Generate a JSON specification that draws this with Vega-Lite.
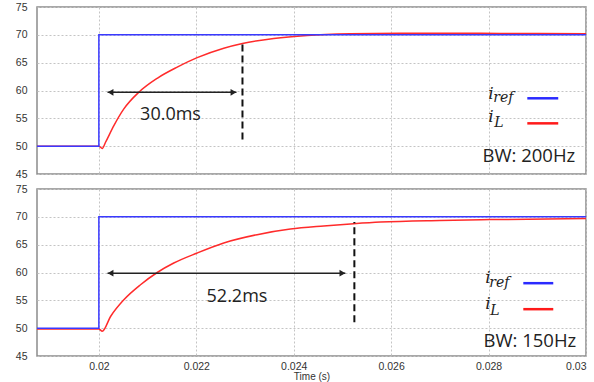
{
  "$schema": "https://vega.github.io/schema/vega-lite/v6.json",
  "padding": {"left": 14, "top": 1, "right": 6, "bottom": 0},
  "spacing": 2,
  "config": {
    "view": {"stroke": "#8c8c8c", "strokeWidth": 1.5},
    "axis": {"domain": false, "ticks": false, "gridColor": "#c4c4c4", "gridDash": [2, 2], "gridWidth": 1, "labelFont": "Liberation Sans", "labelFontSize": 10.5, "labelColor": "#333333", "titleFont": "Liberation Sans", "titleFontSize": 10, "titleFontWeight": "normal", "titleColor": "#333333"},
    "axisY": {"labelPadding": 10, "minExtent": 22, "maxExtent": 22},
    "axisX": {"labelPadding": 5, "titlePadding": 0, "labelFlush": true}
  },
  "vconcat": [
    {
      "width": 549, "height": 167,
      "encoding": {
        "x": {"field": "t", "type": "quantitative", "scale": {"domain": [0.01873, 0.03], "nice": false, "zero": false}, "axis": {"values": [0.02, 0.022, 0.024, 0.026, 0.028, 0.03], "labels": false, "title": null, "labelPadding": 0, "minExtent": 0, "maxExtent": 0}},
        "y": {"field": "v", "type": "quantitative", "scale": {"domain": [45, 75], "nice": false, "zero": false}, "axis": {"values": [45, 50, 55, 60, 65, 70, 75], "title": null}}
      },
      "layer": [
        {
          "data": {"values": [
            {"k": 0, "t": 0.01873, "v": 50}, {"k": 1, "t": 0.02, "v": 50}, {"k": 2, "t": 0.02007, "v": 49.6}, {"k": 3, "t": 0.020137, "v": 50.7}, {"k": 4, "t": 0.020308, "v": 53.7}, {"k": 5, "t": 0.020513, "v": 56.7}, {"k": 6, "t": 0.020821, "v": 59.7}, {"k": 7, "t": 0.021198, "v": 62.2}, {"k": 8, "t": 0.021608, "v": 64.2}, {"k": 9, "t": 0.022018, "v": 65.9}, {"k": 10, "t": 0.022564, "v": 67.6}, {"k": 11, "t": 0.022948, "v": 68.45}, {"k": 12, "t": 0.02359, "v": 69.35}, {"k": 13, "t": 0.024275, "v": 69.9}, {"k": 14, "t": 0.025163, "v": 70.2}, {"k": 15, "t": 0.026189, "v": 70.3}, {"k": 16, "t": 0.027215, "v": 70.3}, {"k": 17, "t": 0.028241, "v": 70.25}, {"k": 18, "t": 0.03, "v": 70.2}
          ]},
          "mark": {"type": "line", "color": "#ff2b2b", "strokeWidth": 1.5, "interpolate": "monotone"},
          "encoding": {"order": {"field": "k", "type": "quantitative"}}
        },
        {
          "data": {"values": [
            {"k": 0, "t": 0.01873, "v": 50}, {"k": 1, "t": 0.02, "v": 50}, {"k": 2, "t": 0.02, "v": 70}, {"k": 3, "t": 0.03, "v": 70}
          ]},
          "mark": {"type": "line", "color": "#3a3aff", "strokeWidth": 1.5},
          "encoding": {"order": {"field": "k", "type": "quantitative"}}
        },
        {
          "data": {"values": [{"t": 0.022948, "v": 51.22, "v2": 68.87}]},
          "mark": {"type": "rule", "color": "#111111", "strokeWidth": 2, "strokeDash": [7, 4]},
          "encoding": {"y2": {"field": "v2"}}
        },
        {
          "data": {"values": [{"t": 0.020178, "t2": 0.022825, "v": 59.68}]},
          "mark": {"type": "rule", "color": "#222222", "strokeWidth": 1.5},
          "encoding": {"x2": {"field": "t2"}}
        },
        {
          "data": {"values": [{"t": 0.02024, "v": 59.68, "dir": "l"}, {"t": 0.022763, "v": 59.68, "dir": "r"}]},
          "mark": {"type": "point", "filled": true, "color": "#222222", "size": 45, "opacity": 1},
          "encoding": {"shape": {"field": "dir", "type": "nominal", "scale": {"domain": ["l", "r"], "range": ["triangle-left", "triangle-right"]}, "legend": null}}
        },
        {
          "data": {"values": [{"t": 0.021471, "v": 55.54, "label": "30.0ms"}]},
          "mark": {"type": "text", "font": "Open Sans", "fontSize": 18, "color": "#222222", "align": "center", "baseline": "middle"},
          "encoding": {"text": {"field": "label"}}
        },
        {
          "data": {"values": [{"t": 0.028795, "t2": 0.02943, "v": 58.6, "s": "ref"}, {"t": 0.028795, "t2": 0.02943, "v": 54.1, "s": "L"}]},
          "mark": {"type": "rule", "strokeWidth": 2.5},
          "encoding": {"x2": {"field": "t2"}, "color": {"field": "s", "type": "nominal", "scale": {"domain": ["ref", "L"], "range": ["#2a2aff", "#ff1a1a"]}, "legend": null}}
        },
        {
          "data": {"values": [{"t": 0.027994, "v": 58.42, "label": "i"}, {"t": 0.027994, "v": 54.28, "label": "i"}]},
          "mark": {"type": "text", "font": "DejaVu Serif", "fontStyle": "italic", "fontSize": 17, "color": "#222222", "align": "left", "baseline": "alphabetic"},
          "encoding": {"text": {"field": "label"}}
        },
        {
          "data": {"values": [{"t": 0.028096, "v": 57.9, "label": "ref"}, {"t": 0.028117, "v": 53.38, "label": "L"}]},
          "mark": {"type": "text", "font": "DejaVu Serif", "fontStyle": "italic", "fontSize": 14, "color": "#222222", "align": "left", "baseline": "alphabetic"},
          "encoding": {"text": {"field": "label"}}
        },
        {
          "data": {"values": [{"t": 0.029779, "v": 47.07, "label": "BW: 200Hz"}]},
          "mark": {"type": "text", "font": "Open Sans", "fontSize": 18.5, "color": "#222222", "align": "right", "baseline": "alphabetic"},
          "encoding": {"text": {"field": "label"}}
        }
      ]
    },
    {
      "width": 549, "height": 167,
      "encoding": {
        "x": {"field": "t", "type": "quantitative", "scale": {"domain": [0.01873, 0.03], "nice": false, "zero": false}, "axis": {"values": [0.02, 0.022, 0.024, 0.026, 0.028, 0.03], "format": "~g", "title": "Time (s)"}},
        "y": {"field": "v", "type": "quantitative", "scale": {"domain": [45, 75], "nice": false, "zero": false}, "axis": {"values": [45, 50, 55, 60, 65, 70, 75], "title": null}}
      },
      "layer": [
        {
          "data": {"values": [
            {"k": 0, "t": 0.01873, "v": 49.85}, {"k": 1, "t": 0.02, "v": 49.85}, {"k": 2, "t": 0.02007, "v": 49.45}, {"k": 3, "t": 0.02024, "v": 52.1}, {"k": 4, "t": 0.020513, "v": 55.1}, {"k": 5, "t": 0.020855, "v": 57.8}, {"k": 6, "t": 0.021198, "v": 60.0}, {"k": 7, "t": 0.021538, "v": 61.7}, {"k": 8, "t": 0.022018, "v": 63.5}, {"k": 9, "t": 0.022564, "v": 65.3}, {"k": 10, "t": 0.023249, "v": 66.8}, {"k": 11, "t": 0.023932, "v": 67.8}, {"k": 12, "t": 0.024615, "v": 68.35}, {"k": 13, "t": 0.025231, "v": 68.75}, {"k": 14, "t": 0.025778, "v": 69.05}, {"k": 15, "t": 0.027, "v": 69.35}, {"k": 16, "t": 0.028035, "v": 69.5}, {"k": 17, "t": 0.03, "v": 69.7}
          ]},
          "mark": {"type": "line", "color": "#ff2b2b", "strokeWidth": 1.5, "interpolate": "monotone"},
          "encoding": {"order": {"field": "k", "type": "quantitative"}}
        },
        {
          "data": {"values": [
            {"k": 0, "t": 0.01873, "v": 50}, {"k": 1, "t": 0.02, "v": 50}, {"k": 2, "t": 0.02, "v": 70}, {"k": 3, "t": 0.03, "v": 70}
          ]},
          "mark": {"type": "line", "color": "#3a3aff", "strokeWidth": 1.5},
          "encoding": {"order": {"field": "k", "type": "quantitative"}}
        },
        {
          "data": {"values": [{"t": 0.025245, "v": 51.07, "v2": 69.06}]},
          "mark": {"type": "rule", "color": "#111111", "strokeWidth": 2, "strokeDash": [7, 4]},
          "encoding": {"y2": {"field": "v2"}}
        },
        {
          "data": {"values": [{"t": 0.020178, "t2": 0.02506, "v": 59.88}]},
          "mark": {"type": "rule", "color": "#222222", "strokeWidth": 1.5},
          "encoding": {"x2": {"field": "t2"}}
        },
        {
          "data": {"values": [{"t": 0.02024, "v": 59.88, "dir": "l"}, {"t": 0.024999, "v": 59.88, "dir": "r"}]},
          "mark": {"type": "point", "filled": true, "color": "#222222", "size": 45, "opacity": 1},
          "encoding": {"shape": {"field": "dir", "type": "nominal", "scale": {"domain": ["l", "r"], "range": ["triangle-left", "triangle-right"]}, "legend": null}}
        },
        {
          "data": {"values": [{"t": 0.022835, "v": 55.56, "label": "52.2ms"}]},
          "mark": {"type": "text", "font": "Open Sans", "fontSize": 18, "color": "#222222", "align": "center", "baseline": "middle"},
          "encoding": {"text": {"field": "label"}}
        },
        {
          "data": {"values": [{"t": 0.028713, "t2": 0.029328, "v": 58.08, "s": "ref"}, {"t": 0.028713, "t2": 0.029328, "v": 53.41, "s": "L"}]},
          "mark": {"type": "rule", "strokeWidth": 2.5},
          "encoding": {"x2": {"field": "t2"}, "color": {"field": "s", "type": "nominal", "scale": {"domain": ["ref", "L"], "range": ["#2a2aff", "#ff1a1a"]}, "legend": null}}
        },
        {
          "data": {"values": [{"t": 0.027932, "v": 58.08, "label": "i"}, {"t": 0.027932, "v": 53.41, "label": "i"}]},
          "mark": {"type": "text", "font": "DejaVu Serif", "fontStyle": "italic", "fontSize": 17, "color": "#222222", "align": "left", "baseline": "alphabetic"},
          "encoding": {"text": {"field": "label"}}
        },
        {
          "data": {"values": [{"t": 0.028014, "v": 57.4, "label": "ref"}, {"t": 0.028035, "v": 52.33, "label": "L"}]},
          "mark": {"type": "text", "font": "DejaVu Serif", "fontStyle": "italic", "fontSize": 14, "color": "#222222", "align": "left", "baseline": "alphabetic"},
          "encoding": {"text": {"field": "label"}}
        },
        {
          "data": {"values": [{"t": 0.0298, "v": 46.57, "label": "BW: 150Hz"}]},
          "mark": {"type": "text", "font": "Open Sans", "fontSize": 18.5, "color": "#222222", "align": "right", "baseline": "alphabetic"},
          "encoding": {"text": {"field": "label"}}
        }
      ]
    }
  ]
}
